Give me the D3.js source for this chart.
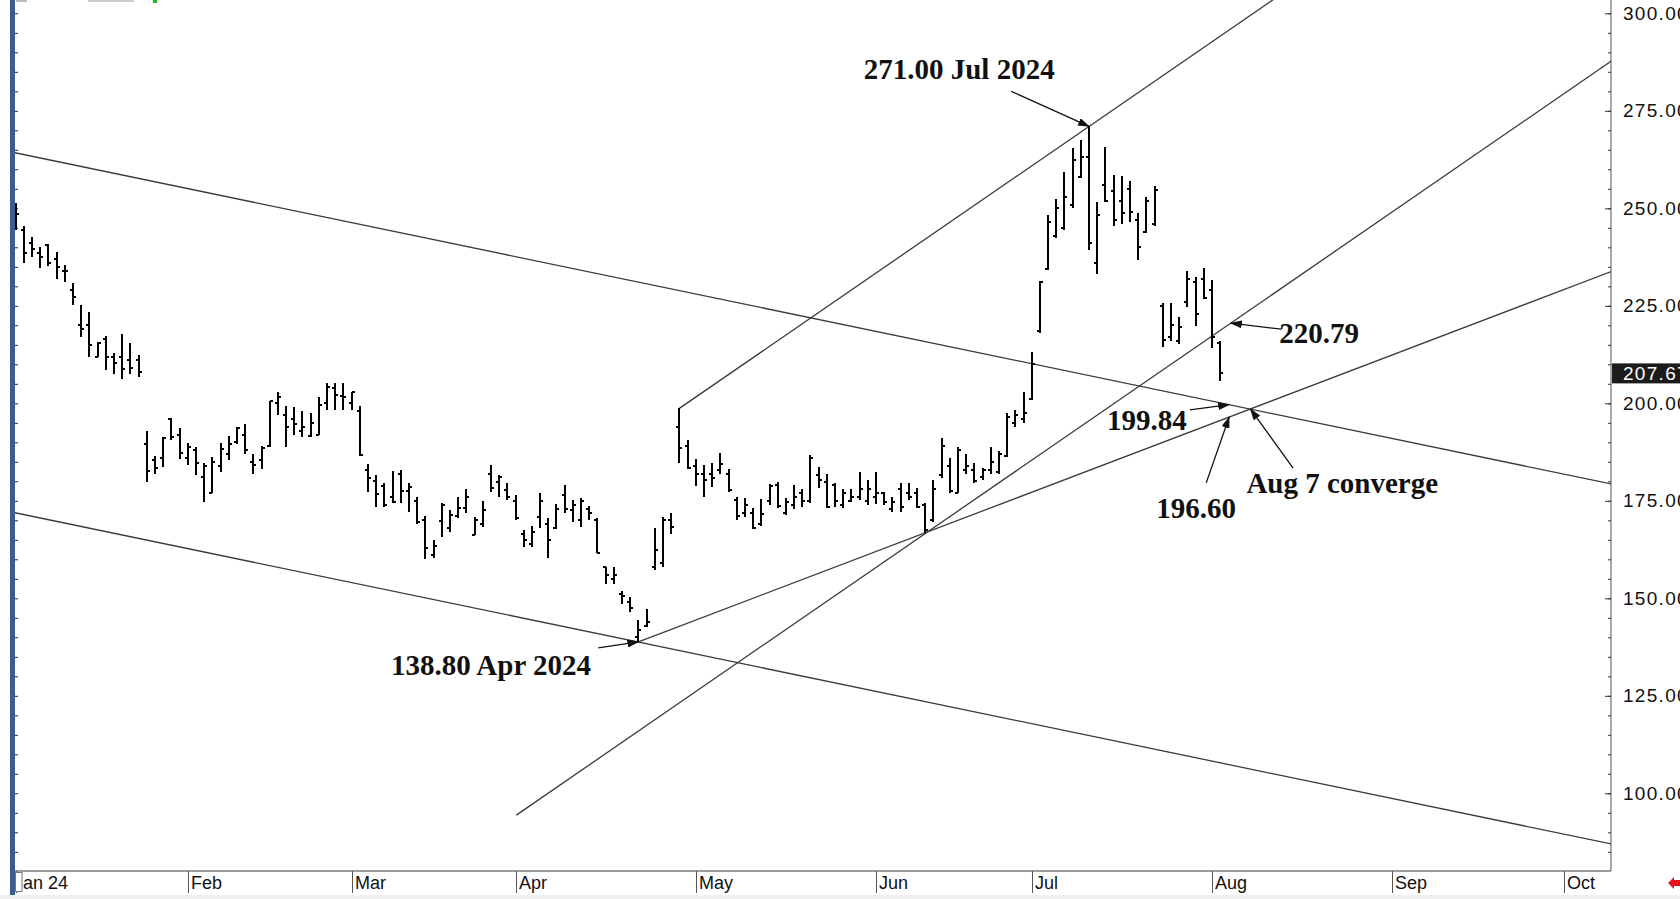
<!DOCTYPE html>
<html>
<head>
<meta charset="utf-8">
<script src="https://cdn.jsdelivr.net/npm/d3@7/dist/d3.min.js"></script>
<style>
  body { margin: 0; background: #fff; overflow: hidden; }
  svg text { font-family: "Liberation Sans", Arial, sans-serif; }
  .note { font-family: "Liberation Serif", "Times New Roman", serif !important; font-weight: bold; font-size: 29px; fill: #111; }
</style>
</head>
<body>
<div id="chart"></div>
<script>
// daily bars, index 0 = 2 Jan 2024
const opens = [250,244.5,241,238.5,240.5,237,234,229,220.1,220,212,216.5,211.8,212,211,211,
  189.6,185.5,185.9,196,192,186,188,181.2,177,184,187,190,191.9,185,185.5,189,200,197,196,193,191.5,192,200,204,202,200,198,183,180,178.8,176,182,177.6,175,
  170,161,169.9,168,171,173.1,166.3,169,182,179.9,177.8,175,166.4,164,170.9,169,168,176.5,172.6,170,173,170,157.9,155,151,149,140,143,158,159,170,
  194,189,184,182,182,183,182,175.3,172,172,169,175,179,172,174,177,175,181.5,179.9,179,174,175,176,175,176,177,173,178,177,177,174,170,181.6,184,177,183,183,181,183,182.5,186.5,195,196,
  201,218.5,234.5,243,245,250.8,258,263.2,235.9,256,254.5,252,255,247,244,246,225,217,216,226,231,232,229,215.5];
const highs = [251.3,245.5,242.6,240,240.8,238.9,235.5,230.9,225.2,223.5,215.8,217.3,213,217.7,215.5,212.4,
  193,186.5,191.3,196.2,193.7,189.7,188.7,184.6,186.3,189.7,191.6,194,194.6,187,189,200.6,203,199.3,199.1,198.1,197.4,201.7,205.3,205.1,205.1,203,199.3,184.4,181.6,179.6,182.7,182.9,179.6,176,
  171.1,165,174.5,172.6,176,178,170.9,175,184.2,181.6,179.5,176.5,167.5,168.6,176.9,170.5,174.2,179,175.2,175.6,173.7,170.5,158.1,158.1,152,150.4,144.4,147.2,168,170.8,172,
  198.7,190.6,185.6,184.2,184.6,187.3,183.1,175.9,175.6,173.1,175.4,179.3,179.9,175.6,179,178,186.8,183.7,182,179.6,178,178,182.5,180.3,182.5,177.3,176,179.6,179.5,178.2,174.4,180.3,191,185.9,188.7,187,184.6,183.3,188.9,187.8,197.4,198.3,203,
  213.2,231.4,248.3,252.3,259.4,265.4,267.5,271.0,251.7,265.6,258.5,258.3,257.1,248.9,253,255.7,225.8,225.8,222.2,234,232.3,234.6,231.6,216];
const lows = [244.4,236.1,237.4,234.6,235.2,231.8,231.2,225.2,217.1,211.9,211.8,208.5,207.5,206.2,207.5,206.7,
  179.9,182,183.7,190.6,185.6,184.2,181.6,174.8,176.9,182.5,185.5,189.6,187,182,183.1,188.7,197,188.9,191.9,191.3,191.4,191.9,198.3,198.3,198.3,198.3,186.5,177.3,173.5,173.5,174.5,174.5,172.2,169,
  160,160.3,165.8,167.1,170.5,171.8,166.2,168.4,177.3,176,175.2,170.1,163.2,163.2,168,160.3,167.7,171.8,169.6,168.4,170.1,161.5,153.7,153.7,148.5,146.6,138.8,142.7,157.3,158,166.5,
  184.6,183.1,178.8,175.9,178.5,181.9,177.3,170.1,170.9,167.7,168.5,173.9,173.1,171.4,172.8,173.3,174.5,178.2,173.1,173.5,173.1,174.6,175.2,173.9,174.2,173.9,172.2,172.2,175.2,173.1,166.7,169.6,180.8,176.9,176.9,182,179.6,180.3,182,181.9,186.3,194,195,
  200.8,218,234.2,242.3,244.4,250,257.7,239.3,233.1,251.7,245.5,246,246.6,236.7,243.6,245.5,214.4,216,215.2,224.8,219.8,226.7,214.1,205.8];
const closes = [248.5,238.5,239.5,237.4,236,235,234,227.3,219,215,215.4,212,210.3,208.7,209,208.1,
  182.7,183.3,191,191.4,187.2,188.9,184.6,184,185,188.2,189.6,193.6,188,184.2,188.5,200.5,201.5,194,194.7,194,195,199.6,204.3,202.1,201.7,203,186.8,180.8,176.7,174,174.7,177.6,178.5,169.6,
  162.8,163.4,174,171.4,173.1,176,170,172.6,178.2,181,176,170.5,165,167,175,165,173,173,174,175,172,161.5,156,156,150.5,147.4,142,143.9,162.4,170,168.3,
  188.5,183.3,182,180.3,180.8,184.4,177.8,171,174,168,171.7,178.8,173.6,174.6,176,175,186,180.3,173.5,175,177,176,178,178,177,174.8,174.8,173.5,176,173.3,167.5,178,189,177.5,188,184,180,183,185,187,196.5,197,197.5,
  210,231,246.6,250,253,262.4,263.2,241,248.3,252,247,248.7,249,240,252,254.7,216.2,220,219.5,232,223,227,217,207.67];
const lastPrice = 207.67;

// month tick labels at the first trading day of each month
const monthLabels = ["Jan 24", "Feb", "Mar", "Apr", "May", "Jun", "Jul", "Aug", "Sep", "Oct"];
const monthIndex = [0, 21, 41, 61, 83, 105, 124, 146, 168, 189];

// price axis
const majorTicks = [100, 125, 150, 175, 200, 225, 250, 275, 300];
const minorTicks = d3.range(85, 301, 5);

// trend lines: [startIndex, endIndex] and two anchor points [index, price]
const trendLines = [
  { from: -1, to: 200, a: [0, 264.2], b: [195, 179.2] },
  { from: -1, to: 200, a: [0, 171.9], b: [195, 86.9] },
  { from: 81, to: 200, a: [81, 198.7], b: [131, 271.0] },
  { from: 61.1, to: 200, a: [61.1, 94.4], b: [111, 166.6] },
  { from: 76, to: 200, a: [76, 138.8], b: [195, 234.0] }
];
const priceOn = (ln, i) => ln.a[1] + (ln.b[1] - ln.a[1]) * (i - ln.a[0]) / (ln.b[0] - ln.a[0]);

// notes: text position, arrow tail and arrow tip in [index, price]
const notes = [
  { text: "271.00 Jul 2024", at: [103.5, 283.2], tail: [121.5, 280.0], tip: [131, 271.0] },
  { text: "138.80 Apr 2024", at: [45.8, 130.3], tail: [71.1, 137.3], tip: [76, 138.8] },
  { text: "220.79", at: [154.2, 215.4], tail: [154.5, 219.0], tip: [148.3, priceOn(trendLines[3], 148.3)] },
  { text: "199.84", at: [133.2, 193.2], tail: [143.3, 198.3], tip: [148.1, priceOn(trendLines[0], 148.1)] },
  { text: "196.60", at: [139.2, 170.6], tail: [145.3, 179.6], tip: [148.1, priceOn(trendLines[4], 148.1)] },
  { text: "Aug 7 converge", at: [150.2, 176.9], tail: [155.9, 183.4], tip: [150.7, priceOn(trendLines[0], 150.7)] }
];

const W = 1680, H = 899;
const plotL = 15, plotR = 1611, plotT = 0, plotB = 871;

const svg = d3.select("#chart").append("svg")
  .attr("width", W).attr("height", H);

const x = d3.scaleLinear().domain([0, 194.7]).range([15.7, plotR]);
const y = d3.scaleLinear().domain([200, 300]).range([403.3, 13.3]);

const defs = svg.append("defs");
defs.append("clipPath").attr("id", "plot")
  .append("rect").attr("x", plotL).attr("y", plotT).attr("width", plotR - plotL).attr("height", plotB - plotT);

defs.append("marker")
  .attr("id", "arrow")
  .attr("markerUnits", "userSpaceOnUse")
  .attr("markerWidth", 12).attr("markerHeight", 8)
  .attr("refX", 11).attr("refY", 4)
  .attr("orient", "auto")
  .append("path").attr("d", "M0,0 L12,4 L0,8 Z").attr("fill", "#111");

// top strip leftovers
svg.append("rect").attr("x", 16).attr("y", 0).attr("width", 11).attr("height", 2).attr("fill", "#bbb");
svg.append("rect").attr("x", 88).attr("y", 0).attr("width", 46).attr("height", 2).attr("fill", "#ccc");
svg.append("rect").attr("x", 153).attr("y", 0).attr("width", 4).attr("height", 3).attr("fill", "#1fb51f");

// bottom frame + month labels
svg.append("rect").attr("x", 0).attr("y", 895).attr("width", W).attr("height", 4).attr("fill", "#efefef");
svg.append("line").attr("x1", plotL).attr("x2", plotR).attr("y1", plotB).attr("y2", plotB)
  .attr("stroke", "#7a7a7a").attr("stroke-width", 1.3);

const months = svg.append("g");
months.selectAll("line").data(monthIndex).enter().append("line")
  .attr("x1", d => Math.round(x(d)) + 0.5).attr("x2", d => Math.round(x(d)) + 0.5)
  .attr("y1", plotB).attr("y2", 893)
  .attr("stroke", "#555");
months.selectAll("text").data(monthIndex).enter().append("text")
  .attr("x", (d, k) => Math.round(x(d)) + (k === 0 ? -2 : 3))
  .attr("y", 889)
  .attr("font-size", "18px")
  .attr("fill", "#111")
  .text((d, k) => monthLabels[k]);
svg.append("rect").attr("x", 15.5).attr("y", 872.5).attr("width", 6.5).attr("height", 19)
  .attr("fill", "#fff").attr("stroke", "#777");

// left frame
svg.append("rect").attr("x", 10).attr("y", 0).attr("width", 5).attr("height", 895).attr("fill", "#3d5d8f");
svg.append("g").attr("transform", `translate(${plotL},0)`)
  .call(d3.axisRight(y).tickValues(minorTicks).tickSize(3).tickFormat(""))
  .call(g => g.select(".domain").remove())
  .selectAll("line").attr("stroke", "#222");

// right price axis
svg.append("line").attr("x1", plotR).attr("x2", plotR).attr("y1", 0).attr("y2", plotB)
  .attr("stroke", "#7a7a7a").attr("stroke-width", 1.3);
svg.append("g").attr("transform", `translate(${plotR},0)`)
  .call(d3.axisLeft(y).tickValues(minorTicks).tickSize(3).tickFormat(""))
  .call(g => g.select(".domain").remove())
  .selectAll("line").attr("stroke", "#333");
svg.append("g").attr("transform", `translate(${plotR},0)`)
  .call(d3.axisLeft(y).tickValues(majorTicks).tickSize(6).tickFormat(""))
  .call(g => g.select(".domain").remove())
  .selectAll("line").attr("stroke", "#333");
svg.append("g").attr("transform", `translate(${plotR},0)`)
  .call(d3.axisRight(y).tickValues(majorTicks).tickSize(0).tickPadding(12).tickFormat(d3.format(".2f")))
  .call(g => g.select(".domain").remove())
  .selectAll("text")
  .attr("font-size", "19px")
  .attr("font-family", "Liberation Sans, Arial, sans-serif")
  .attr("letter-spacing", "1.3px")
  .attr("fill", "#111");

svg.append("rect").attr("x", plotR + 1).attr("y", y(lastPrice) - 10).attr("width", W - plotR).attr("height", 20)
  .attr("fill", "#1c1c1c");
svg.append("text").attr("x", plotR + 12).attr("y", y(lastPrice) + 7)
  .attr("font-size", "19px").attr("letter-spacing", "1.3px").attr("fill", "#fff")
  .text(lastPrice.toFixed(2));

// plot
const plot = svg.append("g").attr("clip-path", "url(#plot)");

plot.selectAll(".trend").data(trendLines).enter().append("line")
  .attr("class", "trend")
  .attr("x1", d => x(d.from)).attr("y1", d => y(priceOn(d, d.from)))
  .attr("x2", d => x(d.to)).attr("y2", d => y(priceOn(d, d.to)))
  .attr("stroke", "#3a3a3a").attr("stroke-width", 1.3);

const bars = plot.selectAll(".bar").data(highs.map((h, i) => ({ i, o: opens[i], h, l: lows[i], c: closes[i] })))
  .enter().append("g").attr("class", "bar")
  .attr("stroke", "#000").attr("stroke-width", 2).attr("shape-rendering", "crispEdges");
bars.append("line")
  .attr("x1", d => Math.round(x(d.i))).attr("x2", d => Math.round(x(d.i)))
  .attr("y1", d => y(d.h)).attr("y2", d => y(d.l));
bars.append("line")
  .attr("x1", d => Math.round(x(d.i)) - 3).attr("x2", d => Math.round(x(d.i)))
  .attr("y1", d => Math.round(y(d.o))).attr("y2", d => Math.round(y(d.o)));
bars.append("line")
  .attr("x1", d => Math.round(x(d.i))).attr("x2", d => Math.round(x(d.i)) + 3)
  .attr("y1", d => Math.round(y(d.c))).attr("y2", d => Math.round(y(d.c)));

// notes
const note = svg.append("g");
note.selectAll("line").data(notes).enter().append("line")
  .attr("x1", d => x(d.tail[0])).attr("y1", d => y(d.tail[1]))
  .attr("x2", d => x(d.tip[0])).attr("y2", d => y(d.tip[1]))
  .attr("stroke", "#111").attr("stroke-width", 1.3)
  .attr("marker-end", "url(#arrow)");
note.selectAll("text").data(notes).enter().append("text")
  .attr("class", "note")
  .attr("x", d => x(d.at[0])).attr("y", d => y(d.at[1]))
  .text(d => d.text);

// red arrow bottom right
svg.append("path").attr("d", "M1668,883 L1674,877 L1674,880 L1680,880 L1680,886 L1674,886 L1674,889 Z")
  .attr("fill", "#e8101a");
</script>
</body>
</html>
